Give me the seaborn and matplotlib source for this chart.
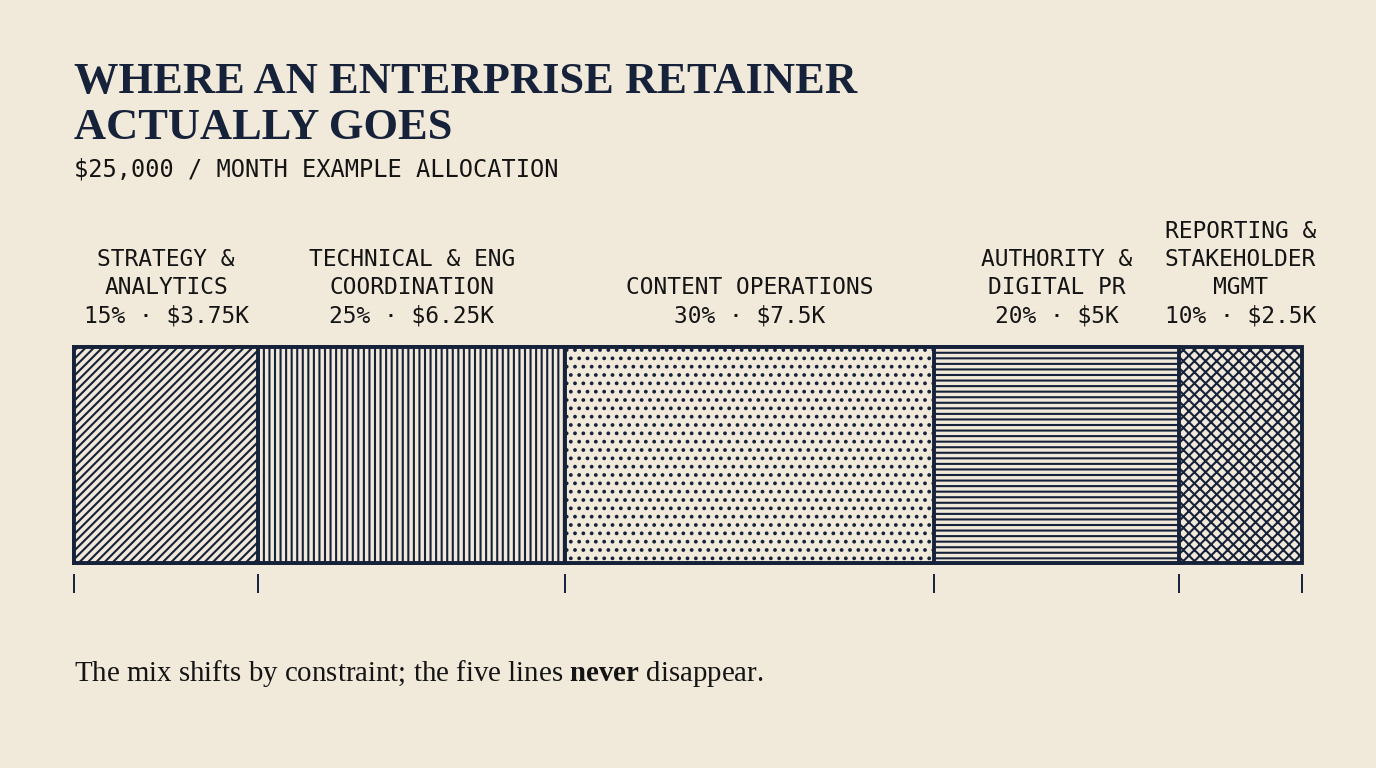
import matplotlib
matplotlib.use("Agg")
import matplotlib.pyplot as plt
import matplotlib.transforms as mtransforms
import numpy as np
import seaborn as sns

# data
categories = [
    "STRATEGY &\nANALYTICS",
    "TECHNICAL & ENG\nCOORDINATION",
    "CONTENT OPERATIONS",
    "AUTHORITY &\nDIGITAL PR",
    "REPORTING &\nSTAKEHOLDER\nMGMT",
]
shares = [15, 25, 30, 20, 10]
monthly_total = 25000

BG = "#F1E9D9"
NAVY = "#16213A"
HATCHES = ["////", "|||", "..", "---", "xxx"]


def fmt_k(v):
    return f"${v / 1000:g}K"


sns.set_theme(style="white", rc={
    "figure.facecolor": BG,
    "axes.facecolor": BG,
    "savefig.facecolor": BG,
})
plt.rcParams["font.family"] = ["DejaVu Sans Mono"]
plt.rcParams["hatch.linewidth"] = 1.5
plt.rcParams["hatch.color"] = NAVY
plt.rcParams["mathtext.fontset"] = "custom"
plt.rcParams["mathtext.rm"] = "Liberation Serif"
plt.rcParams["mathtext.bf"] = "Liberation Serif:bold"

fig = plt.figure(figsize=(13.76, 7.68), dpi=100)
ax = fig.add_axes([74 / 1376, 1 - 563 / 768, 1228 / 1376, 216 / 768])

cum = np.cumsum(shares)
# stacked bar: draw cumulative totals from widest to narrowest
for i in reversed(range(len(shares))):
    sns.barplot(x=[cum[i]], y=["retainer"], orient="h", color=BG, saturation=1,
                edgecolor=NAVY, linewidth=2.8, hatch=HATCHES[i], width=1, ax=ax)
for p in ax.patches:
    p.set_clip_on(False)

ax.set_xlim(0, 100)
ax.set_ylim(0.5, -0.5)
ax.set_yticks([])
ax.set_ylabel("")
ax.set_xlabel("")
for s in ["top", "left", "right"]:
    ax.spines[s].set_visible(False)
ax.spines["bottom"].set_position(("outward", 8))
ax.spines["bottom"].set_color("none")
ax.set_xticks(np.concatenate([[0], cum]))
ax.set_xticklabels([])
ax.tick_params(axis="x", bottom=True, length=14, width=1.4, color=NAVY, direction="out")

# segment labels
trans = mtransforms.blended_transform_factory(ax.transData, fig.transFigure)
starts = cum - np.array(shares)
for cat, share, s0 in zip(categories, shares, starts):
    label = f"{cat}\n{share}% · {fmt_k(monthly_total * share / 100)}"
    ax.text(s0 + share / 2, 1 - 327 / 768, label, transform=trans, ha="center", va="bottom",
            fontsize=16.5, color="#141414", linespacing=1.28, multialignment="center")

# titles
fig.text(74 / 1376, 1 - 139 / 768, "WHERE AN ENTERPRISE RETAINER\nACTUALLY GOES",
         family="Liberation Serif", fontweight="bold", fontsize=32, color=NAVY,
         ha="left", va="baseline", linespacing=1.2)
fig.text(74 / 1376, 1 - 176 / 768, f"${monthly_total:,} / MONTH EXAMPLE ALLOCATION",
         fontsize=17, color="#141414", ha="left", va="baseline")

fig.text(74 / 1376, 1 - 681 / 768,
         r"The mix shifts by constraint; the five lines $\mathbf{never}$ disappear.",
         family="Liberation Serif", fontsize=20.8, color="#141414", ha="left", va="baseline")

fig.savefig("out.png", dpi=100, facecolor=BG)
